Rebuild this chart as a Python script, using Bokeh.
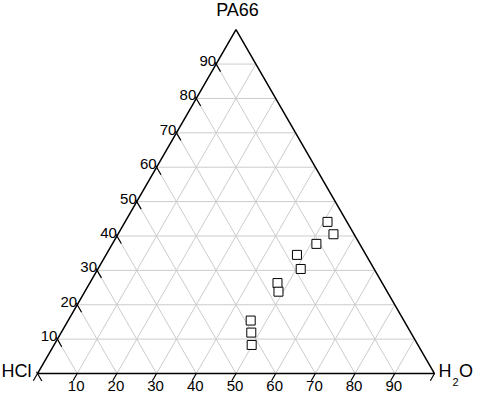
import math
from bokeh.plotting import figure
from bokeh.models import Range1d, ColumnDataSource
from bokeh.core.properties import value
from bokeh.embed import file_html
from bokeh.resources import INLINE

# ---- data (percent) ----
h2o = [51.0, 54.3, 51.4, 48.1, 51.1, 47.3, 48.8, 46.0, 47.9, 49.8]
pa66 = [44.1, 40.5, 37.7, 34.5, 30.4, 26.3, 23.8, 15.4, 11.9, 8.3]
hcl = [round(100 - a - b, 1) for a, b in zip(h2o, pa66)]
tick_values = [10, 20, 30, 40, 50, 60, 70, 80, 90]
tick_labels = [str(t) for t in tick_values]
corner_names = ["HCl", "H2O", "PA66"]

H = math.sqrt(3) / 2
FONT = "Liberation Sans"

def tern(w, p):
    # w = H2O share, p = PA66 share
    return w + p / 2.0, p * H

W, HT = 475, 394
s = 3.97  # px per percent
x0 = -37 / s
y1 = 373 / s
p = figure(width=W, height=HT, output_backend="svg", toolbar_location=None,
           x_range=Range1d(x0, x0 + W / s), y_range=Range1d(y1 - HT / s, y1),
           x_axis_type=None, y_axis_type=None, min_border=0,
           outline_line_color=None)
p.grid.visible = False

# grid lines
gx, gy = [], []
for k in tick_values:
    a = tern(0, k); b = tern(100 - k, k)
    gx.append([a[0], b[0]]); gy.append([a[1], b[1]])
    a = tern(k, 0); b = tern(k, 100 - k)
    gx.append([a[0], b[0]]); gy.append([a[1], b[1]])
    a = tern(100 - k, 0); b = tern(0, 100 - k)
    gx.append([a[0], b[0]]); gy.append([a[1], b[1]])
p.multi_line(gx, gy, line_color="#cccccc", line_width=1)

# triangle
c0 = tern(0, 0); c1 = tern(100, 0); c2 = tern(0, 100)
p.line([c0[0], c1[0], c2[0], c0[0]], [c0[1], c1[1], c2[1], c0[1]],
       line_color="black", line_width=1.5)

# ticks
tx, ty = [], []
bl = 2.1
for k in [0] + tick_values + [100]:
    a = tern(k, 0)
    tx.append([a[0], a[0] - 0.5 * bl]); ty.append([a[1], a[1] - H * bl])
for k in [0] + tick_values:
    a = tern(0, k)
    tx.append([a[0] - 0.5 * 0.5, a[0] + 0.5 * 2.2]); ty.append([a[1] + H * 0.5, a[1] - H * 2.2])
p.multi_line(tx, ty, line_color="black", line_width=1.2)

# tick labels
bsrc = ColumnDataSource(dict(x=[tern(k, 0)[0] for k in tick_values],
                             y=[0.0] * len(tick_values), t=tick_labels))
p.text("x", "y", text="t", source=bsrc, text_align="center", text_baseline="middle",
       x_offset=-1, y_offset=12, text_font=value(FONT), text_font_size="15px",
       text_color="black")
lsrc = ColumnDataSource(dict(x=[tern(0, k)[0] for k in tick_values],
                             y=[tern(0, k)[1] for k in tick_values], t=tick_labels))
p.text("x", "y", text="t", source=lsrc, text_align="right", text_baseline="middle",
       x_offset=0, y_offset=-3, text_font=value(FONT), text_font_size="15px",
       text_color="black")

# corner labels
p.text([c0[0]], [c0[1]], text=[corner_names[0]], text_align="right", text_baseline="middle",
       x_offset=-6, y_offset=-3, text_font=value(FONT), text_font_size="18px", text_color="black")
p.text([c1[0]], [c1[1]], text=["H"], text_align="left", text_baseline="middle",
       x_offset=4, y_offset=-3, text_font=value(FONT), text_font_size="18px", text_color="black")
p.text([c1[0]], [c1[1]], text=["2"], text_align="center", text_baseline="middle",
       x_offset=21, y_offset=8, text_font=value(FONT), text_font_size="11px", text_color="black")
p.text([c1[0]], [c1[1]], text=["O"], text_align="left", text_baseline="middle",
       x_offset=24.5, y_offset=-3, text_font=value(FONT), text_font_size="18px", text_color="black")
p.text([c2[0]], [c2[1]], text=[corner_names[2]], text_align="center", text_baseline="middle",
       x_offset=1.5, y_offset=-20, text_font=value(FONT), text_font_size="18px", text_color="black")

# data points
pts = [tern(w, q) for w, q in zip(h2o, pa66)]
p.scatter([a for a, b in pts], [b for a, b in pts], marker="square", size=9,
          line_color="black", fill_color="white", line_width=1)

open("out.html", "w").write(file_html(p, INLINE))
